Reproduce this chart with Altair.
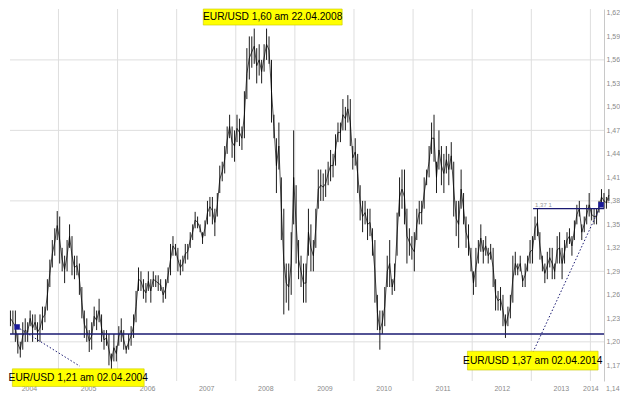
import altair as alt
import pandas as pd

# Semi-monthly high / low of EUR/USD, from March 2004 to April 2014
highs = [
    1.24, 1.24, 1.24, 1.21, 1.20, 1.225, 1.23, 1.225, 1.24, 1.235, 1.235, 1.225, 1.235, 1.245, 1.245, 1.28, 1.305, 1.33, 1.345, 1.367,
    1.36, 1.32, 1.31, 1.33, 1.35, 1.335, 1.31, 1.31, 1.30, 1.27, 1.24, 1.23, 1.215, 1.225, 1.245, 1.24, 1.255, 1.235, 1.215, 1.215, 1.21, 1.185, 1.21, 1.195,
    1.22, 1.23, 1.215, 1.195, 1.21, 1.22, 1.235, 1.265, 1.295, 1.29, 1.28, 1.275, 1.29, 1.28, 1.29, 1.285, 1.285, 1.28, 1.27, 1.28, 1.295, 1.325, 1.335, 1.325,
    1.32, 1.305, 1.31, 1.325, 1.325, 1.34, 1.35, 1.366, 1.36, 1.35, 1.34, 1.355, 1.38, 1.385, 1.385, 1.37, 1.39, 1.425, 1.43, 1.45, 1.475, 1.49, 1.475, 1.47,
    1.49, 1.485, 1.475, 1.52, 1.575, 1.59, 1.59, 1.60, 1.575, 1.58, 1.56, 1.58, 1.60, 1.59, 1.56, 1.49, 1.46, 1.48, 1.41, 1.37, 1.30, 1.30, 1.34, 1.47,
    1.40, 1.33, 1.31, 1.30, 1.30, 1.37, 1.35, 1.33, 1.37, 1.42, 1.42, 1.415, 1.42, 1.43, 1.445, 1.44, 1.465, 1.48, 1.48, 1.51, 1.50, 1.515, 1.51, 1.45,
    1.46, 1.44, 1.40, 1.38, 1.38, 1.37, 1.37, 1.345, 1.33, 1.26, 1.24, 1.24, 1.27, 1.31, 1.33, 1.28, 1.30, 1.365, 1.41, 1.42, 1.42, 1.37, 1.345, 1.335,
    1.34, 1.37, 1.38, 1.38, 1.41, 1.42, 1.45, 1.48, 1.49, 1.43, 1.47, 1.45, 1.44, 1.45, 1.44, 1.455, 1.43, 1.38, 1.38, 1.42, 1.39, 1.36, 1.35, 1.32,
    1.29, 1.32, 1.33, 1.35, 1.33, 1.335, 1.32, 1.325, 1.32, 1.28, 1.265, 1.27, 1.26, 1.235, 1.245, 1.26, 1.31, 1.315, 1.30, 1.31, 1.285, 1.30, 1.31, 1.33,
    1.335, 1.36, 1.37, 1.34, 1.31, 1.30, 1.315, 1.32, 1.32, 1.30, 1.335, 1.34, 1.32, 1.33, 1.34, 1.345, 1.335, 1.355, 1.375, 1.38, 1.35, 1.36, 1.375, 1.39,
    1.37, 1.37, 1.37, 1.38, 1.395, 1.39, 1.385, 1.395,
]
lows = [
    1.22, 1.21, 1.20, 1.185, 1.18, 1.19, 1.20, 1.20, 1.22, 1.20, 1.215, 1.20, 1.20, 1.215, 1.225, 1.24, 1.27, 1.295, 1.31, 1.33,
    1.30, 1.29, 1.275, 1.29, 1.32, 1.285, 1.28, 1.285, 1.26, 1.23, 1.205, 1.20, 1.187, 1.19, 1.22, 1.215, 1.225, 1.20, 1.19, 1.195, 1.17, 1.165, 1.175, 1.175,
    1.195, 1.20, 1.19, 1.185, 1.19, 1.195, 1.205, 1.225, 1.265, 1.265, 1.255, 1.25, 1.265, 1.25, 1.27, 1.27, 1.265, 1.265, 1.25, 1.255, 1.275, 1.285, 1.31, 1.31,
    1.29, 1.285, 1.29, 1.30, 1.305, 1.32, 1.33, 1.345, 1.345, 1.34, 1.325, 1.335, 1.35, 1.36, 1.35, 1.335, 1.36, 1.39, 1.405, 1.415, 1.44, 1.46, 1.435, 1.43,
    1.455, 1.45, 1.445, 1.46, 1.51, 1.535, 1.55, 1.555, 1.53, 1.54, 1.53, 1.545, 1.56, 1.555, 1.48, 1.46, 1.39, 1.42, 1.33, 1.235, 1.25, 1.24, 1.26, 1.35,
    1.30, 1.28, 1.27, 1.25, 1.25, 1.31, 1.29, 1.29, 1.32, 1.37, 1.38, 1.38, 1.385, 1.40, 1.405, 1.41, 1.425, 1.455, 1.455, 1.47, 1.47, 1.48, 1.45, 1.42,
    1.425, 1.39, 1.355, 1.34, 1.35, 1.33, 1.335, 1.31, 1.25, 1.215, 1.19, 1.21, 1.22, 1.27, 1.27, 1.26, 1.265, 1.31, 1.36, 1.37, 1.35, 1.30, 1.31, 1.305,
    1.29, 1.33, 1.35, 1.35, 1.37, 1.40, 1.41, 1.44, 1.43, 1.39, 1.42, 1.40, 1.39, 1.415, 1.40, 1.42, 1.36, 1.335, 1.32, 1.37, 1.35, 1.32, 1.31, 1.29,
    1.26, 1.27, 1.30, 1.315, 1.30, 1.31, 1.30, 1.305, 1.27, 1.24, 1.24, 1.24, 1.22, 1.205, 1.22, 1.23, 1.25, 1.285, 1.285, 1.29, 1.27, 1.27, 1.29, 1.30,
    1.30, 1.33, 1.335, 1.305, 1.29, 1.275, 1.28, 1.295, 1.28, 1.28, 1.30, 1.30, 1.28, 1.30, 1.32, 1.325, 1.31, 1.33, 1.35, 1.36, 1.33, 1.34, 1.35, 1.36,
    1.355, 1.35, 1.35, 1.365, 1.375, 1.37, 1.37, 1.38,
]

year_labels = ["2004", "2005", "2006", "2007", "2008", "2009", "2010", "2011", "2012", "2013", "2014"]
year_label_pos = [2004.5, 2005.5, 2006.5, 2007.5, 2008.5, 2009.5, 2010.5, 2011.5, 2012.5, 2013.5, 2014.0]
grid_years = [2005, 2006, 2007, 2008, 2009, 2010, 2011, 2012, 2013, 2014]
h_grid = [1.20, 1.29, 1.38, 1.47, 1.56]
y_ticks = [1.17, 1.20, 1.23, 1.26, 1.29, 1.32, 1.35, 1.38, 1.41, 1.44, 1.47, 1.50, 1.53, 1.56, 1.59, 1.62]

support_level = 1.21
resist_level = 1.37
resist_start = 2013.03

box_texts = ["EUR/USD 1,60 am 22.04.2008", "EUR/USD 1,21 am 02.04.2004", "EUR/USD 1,37 am 02.04.2014"]
box_t0 = [2007.45, 2004.22, 2011.92]
box_t1 = [2009.80, 2006.45, 2014.13]
box_v0 = [1.6045, 1.143, 1.164]
box_v1 = [1.625, 1.1655, 1.188]

marker_t = [2004.30, 2014.18]
marker_v = [1.219, 1.375]
dot_line_t0 = [2004.30, 2014.18]
dot_line_v0 = [1.219, 1.375]
dot_line_t1 = [2005.36, 2013.03]
dot_line_v1 = [1.169, 1.187]

X0, X1 = 2004.18, 2014.23
Y0, Y1 = 1.15, 1.625
W, H = 594, 372
FONT = "Liberation Sans"

t = [2004 + (2 + i * 0.5) / 12 + 1 / 48 for i in range(len(highs))]
price = pd.DataFrame({"t": t, "high": highs, "low": lows})
price["mid"] = (price["high"] + price["low"]) / 2

xs = alt.Scale(domain=[X0, X1], nice=False, zero=False)
ys = alt.Scale(domain=[Y0, Y1], nice=False, zero=False)

label_expr_x = "toString(floor(datum.value))"
XAX = alt.Axis(values=year_label_pos, labelExpr=label_expr_x, ticks=False, domain=False, grid=False,
               labelFontSize=7, labelColor="#8a8a8a", labelPadding=3, labelFont=FONT, labelFlush=False, title=None)
YAX = alt.Axis(orient="right", values=y_ticks, labelExpr="replace(format(datum.value, '.2f'), '.', ',')",
               ticks=False, domain=True, domainColor="#c8c8c8", grid=False, labelFontSize=7,
               labelColor="#8a8a8a", labelPadding=2, labelFont=FONT, title=None)


def X(f):
    return alt.X(f, scale=xs, axis=XAX, title=None)


def Y(f):
    return alt.Y(f, scale=ys, axis=YAX, title=None)


axis_base = alt.Chart(pd.DataFrame({"t": year_label_pos, "v": [Y0] * len(year_label_pos)})).mark_point(opacity=0).encode(
    x=X("t:Q"), y=Y("v:Q")
)

vgrid = alt.Chart(pd.DataFrame({"t": grid_years})).mark_rule(color="#dedede", strokeWidth=1).encode(x=X("t:Q"))
hgrid = alt.Chart(pd.DataFrame({"v": h_grid})).mark_rule(color="#dedede", strokeWidth=1).encode(y=Y("v:Q"))

bars = alt.Chart(price).mark_rule(color="black", strokeWidth=0.9).encode(x=X("t:Q"), y=Y("low:Q"), y2="high:Q")
line = alt.Chart(price).mark_line(color="black", strokeWidth=0.7).encode(x=X("t:Q"), y=Y("mid:Q"))

support = alt.Chart(pd.DataFrame({"v": [support_level]})).mark_rule(color="#1a1a72", strokeWidth=1.3).encode(y=Y("v:Q"))
resist = alt.Chart(pd.DataFrame({"t": [resist_start], "t2": [X1], "v": [resist_level]})).mark_rule(
    color="#1a1a72", strokeWidth=1.2
).encode(x=X("t:Q"), x2="t2:Q", y=Y("v:Q"))
resist_txt = alt.Chart(pd.DataFrame({"t": [resist_start], "v": [resist_level], "s": ["1,37 1"]})).mark_text(
    align="left", baseline="bottom", fontSize=6, color="#999999", dx=2, dy=-1, font=FONT
).encode(x=X("t:Q"), y=Y("v:Q"), text="s:N")

dots = alt.Chart(pd.DataFrame({"t": dot_line_t0, "v": dot_line_v0, "t2": dot_line_t1, "v2": dot_line_v1})).mark_rule(
    color="#1a1a72", strokeWidth=1, strokeDash=[1.5, 2]
).encode(x=X("t:Q"), y=Y("v:Q"), x2="t2:Q", y2="v2:Q")

markers = alt.Chart(pd.DataFrame({"t": marker_t, "v": marker_v})).mark_point(
    shape="square", filled=True, color="#1a1a9a", size=30, opacity=1
).encode(x=X("t:Q"), y=Y("v:Q"))

boxes_df = pd.DataFrame({"t": box_t0, "t2": box_t1, "v": box_v0, "v2": box_v1, "s": box_texts})
boxes_df["tm"] = (boxes_df["t"] + boxes_df["t2"]) / 2
boxes_df["vm"] = (boxes_df["v"] + boxes_df["v2"]) / 2
box_rect = alt.Chart(boxes_df).mark_rect(color="#ffff00", stroke="#c8c800", strokeWidth=0.6).encode(
    x=X("t:Q"), x2="t2:Q", y=Y("v:Q"), y2="v2:Q"
)
box_text = alt.Chart(boxes_df).mark_text(fontSize=10.2, font=FONT, color="black", align="center", baseline="middle").encode(
    x=X("tm:Q"), y=Y("vm:Q"), text="s:N"
)

low_lbl = alt.Chart(pd.DataFrame({"t": [X1], "v": [1.14], "s": ["1,14"]})).mark_text(
    align="left", baseline="middle", fontSize=7, color="#8a8a8a", dx=2, font=FONT
).encode(x=X("t:Q"), y=Y("v:Q"), text="s:N")

chart = alt.layer(
    axis_base, vgrid, hgrid, bars, line, support, resist, resist_txt, dots, markers, box_rect, box_text, low_lbl
).properties(
    width=W, height=H, padding={"left": 0, "top": 0, "right": 0, "bottom": 0}, background="white"
).configure_view(stroke=None)

chart.save("out.html", embed_options={"renderer": "svg", "actions": False})
